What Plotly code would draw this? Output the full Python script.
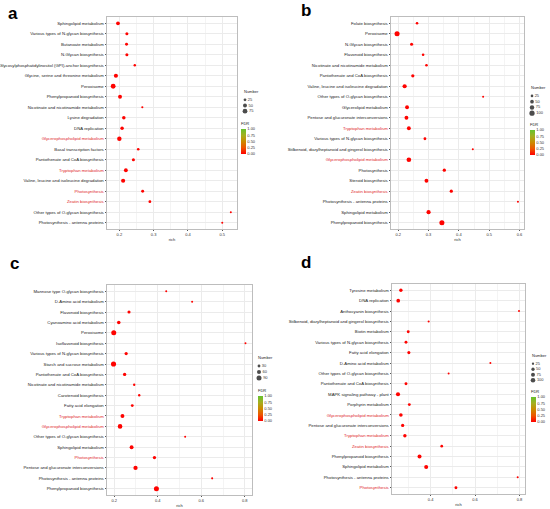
import plotly.graph_objects as go

W, H = 550, 509

# ---- panel a ----
a_pathways = ['Sphingolipid metabolism', 'Various types of N-glycan biosynthesis', 'Butanoate metabolism',
              'N-Glycan biosynthesis', 'Glycosylphosphatidylinositol (GPI)-anchor biosynthesis',
              'Glycine, serine and threonine metabolism', 'Peroxisome', 'Phenylpropanoid biosynthesis',
              'Nicotinate and nicotinamide metabolism', 'Lysine degradation', 'DNA replication',
              'Glycerophospholipid metabolism', 'Basal transcription factors', 'Pantothenate and CoA biosynthesis',
              'Tryptophan metabolism', 'Valine, leucine and isoleucine degradation', 'Photosynthesis',
              'Zeatin biosynthesis', 'Other types of O-glycan biosynthesis', 'Photosynthesis - antenna proteins']
a_rich = [0.196, 0.222, 0.221, 0.222, 0.245, 0.190, 0.182, 0.202, 0.267, 0.213,
          0.208, 0.200, 0.255, 0.241, 0.219, 0.211, 0.268, 0.289, 0.525, 0.500]
a_number = [45, 30, 28, 30, 20, 55, 75, 50, 15, 40, 40, 65, 22, 30, 48, 55, 28, 25, 5, 12]
a_fdr = [0.01] * 20
a_red = ['Glycerophospholipid metabolism', 'Tryptophan metabolism', 'Photosynthesis', 'Zeatin biosynthesis']
a_legend = [25, 50, 75]

# ---- panel b ----
b_pathways = ['Folate biosynthesis', 'Peroxisome', 'N-Glycan biosynthesis', 'Flavonoid biosynthesis',
              'Nicotinate and nicotinamide metabolism', 'Pantothenate and CoA biosynthesis',
              'Valine, leucine and isoleucine degradation', 'Other types of O-glycan biosynthesis',
              'Glycerolipid metabolism', 'Pentose and glucuronate interconversions', 'Tryptophan metabolism',
              'Various types of N-glycan biosynthesis', 'Stilbenoid, diarylheptanoid and gingerol biosynthesis',
              'Glycerophospholipid metabolism', 'Photosynthesis', 'Steroid biosynthesis', 'Zeatin biosynthesis',
              'Photosynthesis - antenna proteins', 'Sphingolipid metabolism', 'Phenylpropanoid biosynthesis']
b_rich = [0.262, 0.196, 0.244, 0.282, 0.293, 0.248, 0.221, 0.480, 0.229, 0.227,
          0.235, 0.288, 0.446, 0.235, 0.352, 0.293, 0.375, 0.595, 0.300, 0.344]
b_number = [25, 95, 35, 25, 25, 40, 65, 5, 55, 55, 55, 30, 12, 80, 40, 55, 38, 15, 65, 95]
b_fdr = [0.01] * 20
b_red = ['Tryptophan metabolism', 'Glycerophospholipid metabolism', 'Zeatin biosynthesis']
b_legend = [25, 50, 75, 100]

# ---- panel c ----
c_pathways = ['Mannose type O-glycan biosynthesis', 'D-Amino acid metabolism', 'Flavonoid biosynthesis',
              'Cyanoamino acid metabolism', 'Peroxisome', 'Isoflavonoid biosynthesis',
              'Various types of N-glycan biosynthesis', 'Starch and sucrose metabolism',
              'Pantothenate and CoA biosynthesis', 'Nicotinate and nicotinamide metabolism',
              'Carotenoid biosynthesis', 'Fatty acid elongation', 'Tryptophan metabolism',
              'Glycerophospholipid metabolism', 'Other types of O-glycan biosynthesis', 'Sphingolipid metabolism',
              'Photosynthesis', 'Pentose and glucuronate interconversions', 'Photosynthesis - antenna proteins',
              'Phenylpropanoid biosynthesis']
c_rich = [0.439, 0.558, 0.268, 0.221, 0.198, 0.803, 0.255, 0.197, 0.248, 0.292,
          0.315, 0.283, 0.238, 0.227, 0.526, 0.280, 0.385, 0.298, 0.650, 0.394]
c_number = [10, 8, 35, 45, 90, 4, 38, 95, 40, 20, 20, 30, 55, 75, 10, 55, 40, 65, 15, 90]
c_fdr = [0.01] * 20
c_red = ['Tryptophan metabolism', 'Glycerophospholipid metabolism', 'Photosynthesis']
c_legend = [30, 60, 90]

# ---- panel d ----
d_pathways = ['Tyrosine metabolism', 'DNA replication', 'Anthocyanin biosynthesis',
              'Stilbenoid, diarylheptanoid and gingerol biosynthesis', 'Biotin metabolism',
              'Various types of N-glycan biosynthesis', 'Fatty acid elongation', 'D-Amino acid metabolism',
              'Other types of O-glycan biosynthesis', 'Pantothenate and CoA biosynthesis',
              'MAPK signaling pathway - plant', 'Porphyrin metabolism', 'Glycerophospholipid metabolism',
              'Pentose and glucuronate interconversions', 'Tryptophan metabolism', 'Zeatin biosynthesis',
              'Phenylpropanoid biosynthesis', 'Sphingolipid metabolism', 'Photosynthesis - antenna proteins',
              'Photosynthesis']
d_rich = [0.266, 0.254, 0.798, 0.391, 0.299, 0.289, 0.302, 0.669, 0.481, 0.289,
          0.253, 0.304, 0.266, 0.274, 0.284, 0.450, 0.350, 0.380, 0.792, 0.514]
d_number = [55, 65, 5, 20, 40, 40, 45, 8, 18, 40, 80, 40, 60, 50, 55, 35, 75, 75, 15, 40]
d_fdr = [0.01] * 20
d_red = ['Glycerophospholipid metabolism', 'Tryptophan metabolism', 'Zeatin biosynthesis', 'Photosynthesis']
d_legend = [25, 50, 75, 100]

fdr_scale = [[0, '#FF0000'], [0.25, '#EE5500'], [0.5, '#CC8A00'], [0.75, '#A3B020'], [1, '#66C22E']]
FONT = 'Liberation Sans'


def px_x(p):
    return p / W


def px_y(p):
    return 1 - p / H


fig = go.Figure()


def add_panel(n, letter, pathways, rich, number, fdr, red, legend_vals,
              box, xrange, dtick, max_d, leg_x, leg_y, cbar_x, cbar_y, letter_xy):
    x0, y0, x1, y1 = box
    sx = '' if n == 1 else str(n)
    sref = 2.0 * max(legend_vals) / (max_d ** 2)

    fig.add_trace(go.Scatter(
        x=rich, y=pathways, mode='markers',
        xaxis='x' + sx, yaxis='y' + sx,
        marker=dict(size=number, sizemode='area', sizeref=sref, sizemin=1,
                    color=fdr, coloraxis='coloraxis' + sx, opacity=1,
                    line=dict(width=0)),
        showlegend=False))

    ticktext = ['<span style="color:%s">%s</span>' % ('#E0262B' if p in red else '#1A1A1A', p)
                for p in pathways]
    fig.layout['xaxis' + sx] = dict(domain=[px_x(x0), px_x(x1)], anchor='y' + sx,
                                    range=xrange, dtick=dtick, tick0=0,
                                    showline=True, mirror=True, linecolor='#BDBDBD', linewidth=0.8,
                                    showgrid=True, gridcolor='#EBEBEB', gridwidth=0.5, zeroline=False,
                                    minor=dict(dtick=dtick / 2, showgrid=True, gridcolor='#F4F4F4', gridwidth=0.4),
                                    ticks='outside', ticklen=1.5, tickcolor='#555555', tickwidth=0.5,
                                    tickformat='.1f', tickfont=dict(size=4, color='#333333', family=FONT),
                                    title=dict(text='rich', font=dict(size=4, color='#222222', family=FONT),
                                               standoff=1))
    fig.layout['yaxis' + sx] = dict(domain=[px_y(y1), px_y(y0)], anchor='x' + sx,
                                    type='category', categoryorder='array', categoryarray=pathways,
                                    range=[len(pathways) - 0.4, -0.6],
                                    tickvals=pathways, ticktext=ticktext,
                                    showline=True, mirror=True, linecolor='#BDBDBD', linewidth=0.8,
                                    showgrid=True, gridcolor='#EBEBEB', gridwidth=0.5, zeroline=False,
                                    ticks='outside', ticklen=1.5, tickcolor='#555555', tickwidth=0.5,
                                    tickfont=dict(size=4.3, color='#1A1A1A', family=FONT))
    fig.layout['coloraxis' + sx] = dict(
        cmin=0, cmax=1, colorscale=fdr_scale,
        colorbar=dict(x=px_x(cbar_x), xanchor='left', y=px_y(cbar_y), yanchor='top',
                      len=35, lenmode='pixels', thickness=5, thicknessmode='pixels',
                      outlinewidth=0, xpad=0, ypad=0, ticks='',
                      tickvals=[0, 0.25, 0.5, 0.75, 1],
                      ticktext=['0.00', '0.25', '0.50', '0.75', '1.00'],
                      tickfont=dict(size=4, color='#333333', family=FONT),
                      title=dict(text='FDR', side='top', font=dict(size=4, color='#222222', family=FONT))))

    # size legend drawn on its own tiny axis with the same size scale
    ln = str(n + 4)
    lx0, ly0, ly1 = leg_x - 2, leg_y[0], leg_y[1]
    fig.add_trace(go.Scatter(
        x=[0] * len(legend_vals), y=[str(v) for v in legend_vals], mode='markers+text',
        xaxis='x' + ln, yaxis='y' + ln,
        text=[str(v) for v in legend_vals], textposition='middle right',
        textfont=dict(size=4, color='#333333', family=FONT),
        marker=dict(size=legend_vals, sizemode='area', sizeref=sref, color='black', line=dict(width=0)),
        cliponaxis=False, showlegend=False))
    fig.layout['xaxis' + ln] = dict(domain=[px_x(lx0), px_x(lx0 + 4)], range=[-1, 1], visible=False,
                                    anchor='y' + ln)
    fig.layout['yaxis' + ln] = dict(domain=[px_y(ly1), px_y(ly0)], type='category',
                                    range=[len(legend_vals) - 0.5, -0.5], visible=False,
                                    anchor='x' + ln)
    fig.add_annotation(text='Number', x=px_x(leg_x - 3), y=px_y(ly0 - 1), xref='paper', yref='paper',
                       xanchor='left', yanchor='bottom', showarrow=False,
                       font=dict(size=4, color='#222222', family=FONT))
    fig.add_annotation(text='<b>%s</b>' % letter, x=px_x(letter_xy[0]), y=px_y(letter_xy[1]),
                       xref='paper', yref='paper', xanchor='left', yanchor='middle',
                       showarrow=False, font=dict(size=17, color='black', family='Liberation Sans'))


add_panel(1, 'a', a_pathways, a_rich, a_number, a_fdr, a_red, a_legend,
          (107, 17, 237, 229), [0.164, 0.543], 0.1, 4.8, 245, (97, 114), 241, 119, (6, 13))
add_panel(2, 'b', b_pathways, b_rich, b_number, b_fdr, b_red, b_legend,
          (391, 17, 524, 229), [0.176, 0.615], 0.1, 5.2, 532, (93, 116), 530, 120, (299, 11))
add_panel(3, 'c', c_pathways, c_rich, c_number, c_fdr, c_red, c_legend,
          (107, 285, 252, 495), [0.167, 0.833], 0.2, 5.0, 259, (363, 381), 258, 386, (8, 263))
add_panel(4, 'd', d_pathways, d_rich, d_number, d_fdr, d_red, d_legend,
          (392, 284, 525, 494), [0.226, 0.825], 0.2, 4.6, 533, (361, 383), 531, 387, (299, 262))

fig.update_layout(width=W, height=H, margin=dict(l=0, r=0, t=0, b=0),
                  paper_bgcolor='white', plot_bgcolor='white',
                  font=dict(family=FONT, size=4, color='#222222'))

fig.write_html('out.html', config={'displayModeBar': False},
               post_script="document.body.style.margin='0px';")
